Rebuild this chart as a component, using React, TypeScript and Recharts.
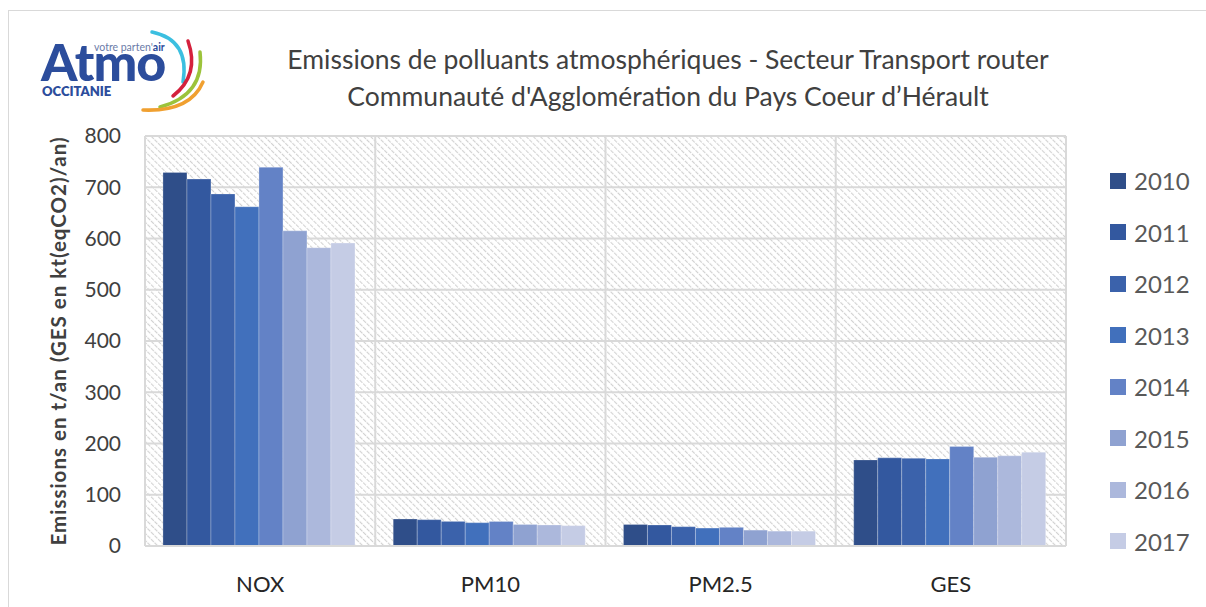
import React from 'react';
import { BarChart, Bar, XAxis, YAxis, CartesianGrid, Legend } from 'recharts';

const categories = ['NOX', 'PM10', 'PM2.5', 'GES'];
const years = ['2010', '2011', '2012', '2013', '2014', '2015', '2016', '2017'];
const v2010 = [729, 52.7, 42, 168];
const v2011 = [716, 51.4, 41, 172];
const v2012 = [687, 48, 37.7, 171];
const v2013 = [662, 45.5, 35, 170];
const v2014 = [739, 48, 36.4, 194];
const v2015 = [615, 42, 31, 173];
const v2016 = [582, 41, 29, 176];
const v2017 = [591, 39.7, 29, 183];
const yTicks = [0, 100, 200, 300, 400, 500, 600, 700, 800];
const colors = ['#2F4E89', '#33589F', '#3B62AB', '#4170BC', '#6382C6', '#8FA2D1', '#ACB8DC', '#C5CCE5'];

const seriesValues = [v2010, v2011, v2012, v2013, v2014, v2015, v2016, v2017];
const data = categories.map((c, i) => {
  const row: Record<string, string | number> = { name: c };
  years.forEach((y, k) => {
    row[y] = seriesValues[k][i];
  });
  return row;
});

const FONT = 'Lato, "Open Sans", sans-serif';

const renderLegend = (props: any) => {
  const payload = props.payload || [];
  return (
    <div style={{ fontFamily: FONT }}>
      {payload.map((p: any) => (
        <div key={p.value} style={{ height: 51.5, display: 'flex', alignItems: 'center' }}>
          <div style={{ width: 16, height: 16, background: p.color, marginRight: 8 }} />
          <span style={{ fontSize: 24, color: '#595959' }}>{p.value}</span>
        </div>
      ))}
    </div>
  );
};

const Logo = () => (
  <svg width={230} height={125} style={{ position: 'absolute', left: 0, top: 0 }}>
    <text x={41} y={81} fontFamily={FONT} fontWeight={900} fontSize={52} fill="#2C4D9C" letterSpacing={-1}>Atmo</text>
    <text x={94} y={51} fontFamily={FONT} fontSize={10.5} fill="#6B7BA8">
      votre parten'<tspan fontWeight={700} fill="#2C4D9C">air</tspan>
    </text>
    <text x={42} y={96} fontFamily={FONT} fontWeight={800} fontSize={13} fill="#2C4D9C">OCCITANIE</text>
    <path d="M152,32 Q190,40 183,82" stroke="#3BBFE0" strokeWidth={3.5} fill="none" strokeLinecap="round" />
    <path d="M188,41 Q200,75 173,96" stroke="#D4213D" strokeWidth={3.5} fill="none" strokeLinecap="round" />
    <path d="M200,52 Q205,95 160,107" stroke="#9CC33B" strokeWidth={3.5} fill="none" strokeLinecap="round" />
    <path d="M203,82 Q190,112 143,110" stroke="#F0A030" strokeWidth={3.5} fill="none" strokeLinecap="round" />
  </svg>
);

export default function App() {
  return (
    <div style={{ position: 'absolute', left: 0, top: 0, width: 1206, height: 607, background: '#fff', overflow: 'hidden' }}>
      <svg width={0} height={0} style={{ position: 'absolute' }}>
        <defs>
          <pattern id="hatch" width={5} height={5} patternUnits="userSpaceOnUse" patternTransform="rotate(-45)">
            <rect width={5} height={5} fill="#ffffff" />
            <line x1={0} y1={0} x2={0} y2={5} stroke="#d2d2d2" strokeWidth={2.2} strokeDasharray="2 1" />
          </pattern>
        </defs>
      </svg>
      <div style={{ position: 'absolute', left: 8, top: 10, width: 1220, height: 620, border: '1.5px solid #d9d9d9' }} />
      <Logo />
      <div style={{ position: 'absolute', left: 130, width: 1076, top: 41, textAlign: 'center', fontFamily: FONT, fontSize: 26.5, color: '#404040', lineHeight: '37px' }}>
        <div>Emissions de polluants atmosphériques - Secteur Transport router</div>
        <div>Communauté d'Agglomération du Pays Coeur d’Hérault</div>
      </div>
      <div style={{ position: 'absolute', left: 0, top: 0 }}>
        <BarChart
          width={1206}
          height={607}
          data={data}
          margin={{ top: 136, right: 140, bottom: 0, left: 0 }}
          barCategoryGap="7.8%"
          barGap={0}
        >
          <CartesianGrid
            fill="url(#hatch)"
            stroke="#d9d9d9"
            strokeWidth={2}
            verticalCoordinatesGenerator={(p: any) => [0, 1, 2, 3, 4].map((i) => p.offset.left + (i * p.offset.width) / 4)}
          />
          <XAxis
            dataKey="name"
            height={61}
            tickLine={false}
            tickSize={0}
            tickMargin={30}
            axisLine={{ stroke: '#d9d9d9', strokeWidth: 2 }}
            tick={{ fontFamily: FONT, fontSize: 22, fill: '#262626' }}
          />
          <YAxis
            width={145}
            domain={[0, 800]}
            ticks={yTicks}
            interval={0}
            tickLine={false}
            tickSize={0}
            tickMargin={24}
            axisLine={false}
            tick={{ fontFamily: FONT, fontSize: 21, fill: '#404040' }}
            label={{
              value: 'Emissions en t/an (GES en kt(eqCO2)/an)',
              angle: -90,
              position: 'center',
              dx: -14,
              style: { fontFamily: FONT, fontSize: 20.5, fontWeight: 700, fill: '#404040', letterSpacing: 1 },
            }}
          />
          <Legend
            layout="vertical"
            align="center"
            verticalAlign="middle"
            content={renderLegend}
            wrapperStyle={{ left: 1110, top: 155, width: 96, right: 'auto', bottom: 'auto' }}
          />
          {years.map((y, k) => (
            <Bar key={y} dataKey={y} fill={colors[k]} stroke="rgba(255,255,255,0.25)" strokeWidth={1} isAnimationActive={false} />
          ))}
        </BarChart>
      </div>
    </div>
  );
}
